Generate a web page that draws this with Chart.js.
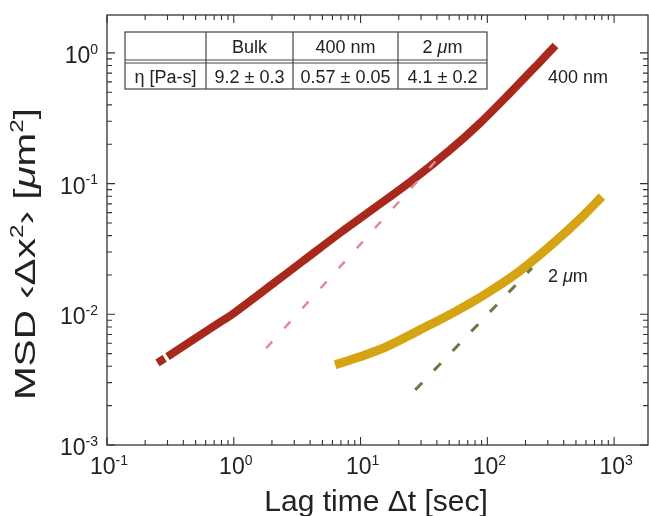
<!DOCTYPE html>
<html>
<head>
<meta charset="utf-8">
<script src="https://cdn.jsdelivr.net/npm/chart.js@4.4.1/dist/chart.umd.min.js"></script>
<style>
html, body { margin: 0; padding: 0; background: #fff; }
#wrap { width: 649px; height: 516px; }
</style>
</head>
<body>
<div id="wrap"><canvas id="msdChart" width="649" height="516"></canvas></div>
<script>
// lag times [sec] and MSD [um^2]
var lagRed = [0.25, 0.285, 0.29, 0.30, 0.5, 0.78, 1.0, 2.0, 3.5, 6.9, 12, 25.9, 50.8, 87.7, 150, 250, 345];
var msdRed = [0.00425, 0.0046, null, 0.00475, 0.00658, 0.0087, 0.0102, 0.0169, 0.0255, 0.042, 0.0619, 0.107, 0.181, 0.291, 0.49, 0.82, 1.14];
var lagGold = [6.3, 10, 16.1, 29.4, 54, 99, 181, 332, 550, 800];
var msdGold = [0.0041, 0.00475, 0.00566, 0.0076, 0.0103, 0.0145, 0.0215, 0.035, 0.0548, 0.0796];
// slope-1 guide lines
var fitRedLag = [1.8, 40];
var fitRedMsd = [0.0055, 0.152];
var fitGoldLag = [27, 225];
var fitGoldMsd = [0.00264, 0.0226];

var xTickExps = [-1, 0, 1, 2, 3];
var yTickExps = [-3, -2, -1, 0];
var seriesLabels = ['400 nm', '2 μm'];
var tableHead = ['', 'Bulk', '400 nm', '2 μm'];
var tableRow = ['η [Pa-s]', '9.2 ± 0.3', '0.57 ± 0.05', '4.1 ± 0.2'];

var FONT = '"Liberation Sans", Arial, Helvetica, sans-serif';
var INK = '#222';

function pts(xs, ys) {
    return xs.map(function (x, i) { return { x: x, y: ys[i] }; });
}

// split a string so that μ is set in italic
function toParts(str) {
    var parts = [];
    str.split(/(μ)/).forEach(function (s) {
        if (s === '') return;
        parts.push({ t: s, it: s === 'μ' });
    });
    return parts;
}

function partFont(p, size) {
    var s = p.sup ? Math.round(size * 0.6) : size;
    return (p.it ? 'italic ' : '') + s + 'px ' + FONT;
}

function richWidth(ctx, parts, size) {
    var w = 0;
    parts.forEach(function (p) {
        ctx.font = partFont(p, size);
        w += ctx.measureText(p.t).width;
    });
    return w;
}

function drawRich(ctx, parts, x, y, size, align) {
    var w = richWidth(ctx, parts, size);
    var cx = x;
    if (align === 'center') cx = x - w / 2;
    if (align === 'right') cx = x - w;
    ctx.textAlign = 'left';
    ctx.textBaseline = 'alphabetic';
    parts.forEach(function (p) {
        ctx.font = partFont(p, size);
        ctx.fillText(p.t, cx, p.sup ? y - size * 0.4 : y);
        cx += ctx.measureText(p.t).width;
    });
}

function tickLabel(exp) {
    return [{ t: '10' }, { t: String(exp), sup: true }];
}

var frame = {
    id: 'frame',
    afterDraw: function (chart) {
        var ctx = chart.ctx;
        var a = chart.chartArea;
        var xs = chart.scales.x, ys = chart.scales.y;
        ctx.save();
        ctx.strokeStyle = '#333';
        ctx.fillStyle = INK;
        ctx.lineWidth = 1.3;
        ctx.strokeRect(a.left, a.top, a.right - a.left, a.bottom - a.top);

        // inward ticks on all four sides
        ctx.lineWidth = 1.1;
        ctx.beginPath();
        xTickExps.forEach(function (e) {
            for (var k = 1; k <= 9; k++) {
                var v = k * Math.pow(10, e);
                if (v < xs.min || v > xs.max) continue;
                var px = xs.getPixelForValue(v);
                var len = k === 1 ? 8 : 5;
                ctx.moveTo(px, a.bottom); ctx.lineTo(px, a.bottom - len);
                ctx.moveTo(px, a.top); ctx.lineTo(px, a.top + len);
            }
        });
        yTickExps.forEach(function (e) {
            for (var k = 1; k <= 9; k++) {
                var v = k * Math.pow(10, e);
                if (v < ys.min || v > ys.max) continue;
                var py = ys.getPixelForValue(v);
                var len = k === 1 ? 8 : 5;
                ctx.moveTo(a.left, py); ctx.lineTo(a.left + len, py);
                ctx.moveTo(a.right, py); ctx.lineTo(a.right - len, py);
            }
        });
        ctx.stroke();

        // tick labels
        xTickExps.forEach(function (e) {
            var px = xs.getPixelForValue(Math.pow(10, e));
            drawRich(ctx, tickLabel(e), px + 2, a.bottom + 29, 23, 'center');
        });
        yTickExps.forEach(function (e) {
            var py = ys.getPixelForValue(Math.pow(10, e));
            drawRich(ctx, tickLabel(e), a.left - 9, py + 10, 23, 'right');
        });

        // axis titles
        drawRich(ctx, toParts('Lag time Δt [sec]'), 376, 511, 30, 'center');
        ctx.save();
        ctx.translate(35, 254);
        ctx.rotate(-Math.PI / 2);
        ctx.scale(1.35, 1);
        drawRich(ctx, [
            { t: 'MSD ‹Δx' }, { t: '2', sup: true }, { t: '› [' },
            { t: 'μ', it: true }, { t: 'm' }, { t: '2', sup: true }, { t: ']' }
        ], 0, 0, 30, 'center');
        ctx.restore();

        // series labels
        drawRich(ctx, toParts(seriesLabels[0]), 548, 83, 18, 'left');
        drawRich(ctx, toParts(seriesLabels[1]), 548, 282, 18, 'left');

        // viscosity table
        var colX = [125, 206, 293, 398, 487];
        var top = 32, mid = 60, bot = 89;
        ctx.fillStyle = '#fff';
        ctx.fillRect(colX[0], top, colX[4] - colX[0], bot - top);
        ctx.strokeStyle = '#444';
        ctx.lineWidth = 1.2;
        ctx.strokeRect(colX[0], top, colX[4] - colX[0], bot - top);
        ctx.beginPath();
        ctx.moveTo(colX[0], mid); ctx.lineTo(colX[4], mid);
        ctx.moveTo(colX[0], mid + 3); ctx.lineTo(colX[4], mid + 3);
        for (var c = 1; c < 4; c++) {
            ctx.moveTo(colX[c], top); ctx.lineTo(colX[c], bot);
        }
        ctx.stroke();
        ctx.fillStyle = INK;
        for (var j = 0; j < 4; j++) {
            var cx = (colX[j] + colX[j + 1]) / 2;
            drawRich(ctx, toParts(tableHead[j]), cx, 53, 18, 'center');
            drawRich(ctx, toParts(tableRow[j]), cx, 83, 18, 'center');
        }
        ctx.restore();
    }
};

var chart = new Chart(document.getElementById('msdChart'), {
    type: 'scatter',
    data: {
        datasets: [{
            label: 'fit ' + seriesLabels[0],
            data: pts(fitRedLag, fitRedMsd),
            showLine: true,
            borderColor: '#e08a98',
            borderWidth: 2.5,
            borderDash: [9, 18],
            pointRadius: 0
        }, {
            label: 'fit ' + seriesLabels[1],
            data: pts(fitGoldLag, fitGoldMsd),
            showLine: true,
            borderColor: '#6b7a3e',
            borderWidth: 3,
            borderDash: [10, 17],
            pointRadius: 0
        }, {
            label: seriesLabels[0],
            data: pts(lagRed, msdRed),
            showLine: true,
            spanGaps: false,
            borderColor: '#a8281c',
            borderWidth: 8,
            borderCapStyle: 'butt',
            tension: 0.3,
            pointRadius: 0
        }, {
            label: seriesLabels[1],
            data: pts(lagGold, msdGold),
            showLine: true,
            borderColor: '#d6a312',
            borderWidth: 9,
            borderCapStyle: 'butt',
            tension: 0.3,
            pointRadius: 0
        }]
    },
    options: {
        responsive: false,
        animation: false,
        layout: { padding: { top: 15, right: 1, left: 0, bottom: 0 } },
        plugins: {
            legend: { display: false },
            tooltip: { enabled: false }
        },
        scales: {
            x: {
                type: 'logarithmic',
                min: 0.1,
                max: 1850,
                ticks: { display: false },
                grid: { display: false },
                border: { display: false },
                afterFit: function (scale) { scale.height = 71; }
            },
            y: {
                type: 'logarithmic',
                min: 0.001,
                max: 1.95,
                ticks: { display: false },
                grid: { display: false },
                border: { display: false },
                afterFit: function (scale) { scale.width = 107; }
            }
        }
    },
    plugins: [frame]
});
</script>
</body>
</html>
